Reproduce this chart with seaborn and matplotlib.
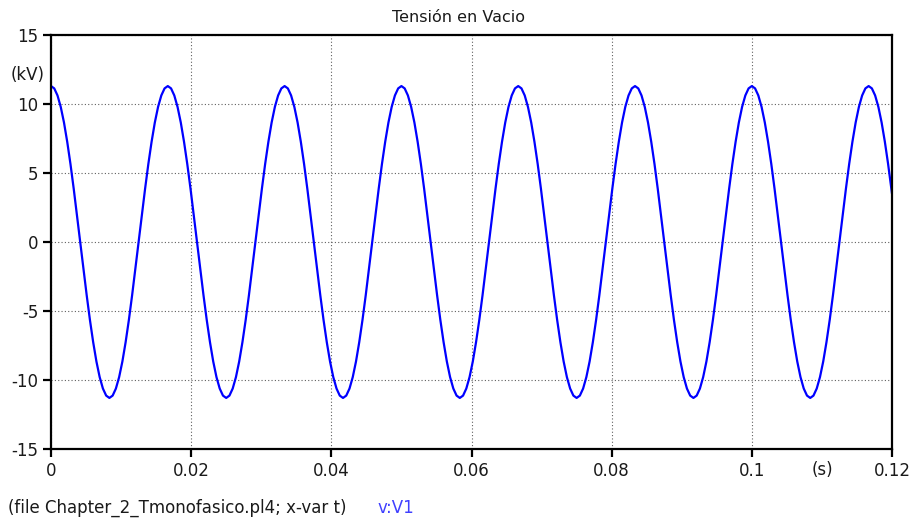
import numpy as np
import pandas as pd
import seaborn as sns
import matplotlib.pyplot as plt

# one cycle of V1 (kV), 10 degree steps, 60 Hz
cycle_kv = [11.3, 11.13, 10.62, 9.79, 8.66, 7.26, 5.65, 3.86, 1.96,
            0.0, -1.96, -3.86, -5.65, -7.26, -8.66, -9.79, -10.62, -11.13,
            -11.3, -11.13, -10.62, -9.79, -8.66, -7.26, -5.65, -3.86, -1.96,
            0.0, 1.96, 3.86, 5.65, 7.26, 8.66, 9.79, 10.62, 11.13]
cycle_period_s = 1 / 60
t_end = 0.12
v_end = 3.5  # last value at t = 0.12 s

xticks = [0, 0.02, 0.04, 0.06, 0.08, 0.1, 0.12]
xticklabels = ["0", "0.02", "0.04", "0.06", "0.08", "0.1", "0.12"]
yticks = [-15, -10, -5, 0, 5, 10, 15]

dt = cycle_period_s / len(cycle_kv)
n = int(t_end / dt) + 1
t = list(np.arange(n) * dt) + [t_end]
v = list(np.resize(cycle_kv, n)) + [v_end]
df = pd.DataFrame({"t": t, "v": v})

sns.set_style("white")
plt.rcParams["font.family"] = ["DejaVu Sans"]
plt.rcParams["axes.unicode_minus"] = False

fig = plt.figure(figsize=(9.16, 5.23), dpi=100)
ax = fig.add_axes([51 / 916, 1 - 449 / 523, 841 / 916, 414 / 523])
sns.lineplot(data=df, x="t", y="v", ax=ax, color="#0000ff", linewidth=1.6,
             estimator=None, sort=False)

ax.set_xlim(0, 0.12)
ax.set_ylim(-15, 15)
ax.set_xticks(xticks)
ax.set_xticklabels(xticklabels)
ax.set_yticks(yticks)
ax.set_yticklabels([str(y) for y in yticks])
ax.set_xlabel("")
ax.set_ylabel("")
ax.grid(True, color="#606060", linestyle=(0, (1, 2)), linewidth=0.8)
for s in ax.spines.values():
    s.set_color("black")
    s.set_linewidth(1.6)
ax.tick_params(direction="out", length=6, width=1.6, color="black",
               labelsize=12, labelcolor="#1a1a1a", pad=3, bottom=True, left=True)

fig.text(0.5, 1 - 18 / 523, "Tensión en Vacio", ha="center", va="center",
         fontsize=11.5, color="#1a1a1a")
fig.text(45 / 916, 1 - 75 / 523, "(kV)", ha="right", va="center",
         fontsize=12, color="#1a1a1a")
fig.text(822 / 916, 1 - 470 / 523, "(s)", ha="center", va="center",
         fontsize=12, color="#1a1a1a")

fig.text(8 / 916, 1 - 508 / 523, "(file Chapter_2_Tmonofasico.pl4; x-var t)",
         ha="left", va="center", fontsize=12, color="#1a1a1a")
fig.text(377 / 916, 1 - 508 / 523, "v:V1", ha="left", va="center",
         fontsize=12, color="#4040ff")

fig.savefig("out.png", dpi=100)
